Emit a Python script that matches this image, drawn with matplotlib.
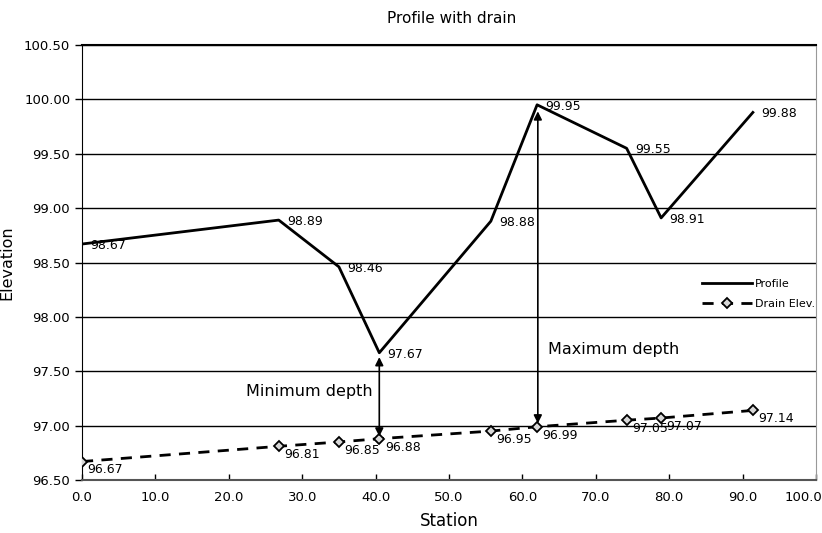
import matplotlib
matplotlib.use("Agg")
import matplotlib.pyplot as plt
import matplotlib.transforms as mtransforms

station = [0.0, 26.8, 35.0, 40.5, 55.7, 62.0, 74.2, 78.9, 91.4]
profile = [98.67, 98.89, 98.46, 97.67, 98.88, 99.95, 99.55, 98.91, 99.88]
drain = [96.67, 96.81, 96.85, 96.88, 96.95, 96.99, 97.05, 97.07, 97.14]

xticks = [0, 10, 20, 30, 40, 50, 60, 70, 80, 90, 100]
yticks = [96.5, 97.0, 97.5, 98.0, 98.5, 99.0, 99.5, 100.0, 100.5]

min_idx = 3
max_idx = 5

fig = plt.figure(figsize=(8.22, 5.33), dpi=100)
ax = fig.add_axes([0.0998, 0.0994, 0.8929, 0.8162])

for y in yticks[1:]:
    ax.axhline(y, color="black", lw=1.0, zorder=1)

ax.plot(station, profile, color="black", lw=2.0, label="Profile", zorder=3)
ax.plot(station, drain, color="black", lw=2.0, ls=(0, (4, 3)), marker="D",
        markersize=5.5, markerfacecolor="#d8d8d8", markeredgecolor="black",
        markeredgewidth=1.3, label="Drain Elev.", zorder=3)

for x, y in zip(station, profile):
    ax.annotate(f"{y:.2f}", (x, y), xytext=(6, -1), textcoords="offset points",
                ha="left", va="center", fontsize=9)
for x, y in zip(station, drain):
    ax.annotate(f"{y:.2f}", (x, y), xytext=(4, -6), textcoords="offset points",
                ha="left", va="center", fontsize=9)

arrow_kw = dict(arrowstyle="<|-|>", color="black", lw=1.2, mutation_scale=12,
                shrinkA=0, shrinkB=0)
ax.annotate("", xy=(station[min_idx], profile[min_idx] - 0.04),
            xytext=(station[min_idx], drain[min_idx] + 0.02), arrowprops=arrow_kw, zorder=4)
ax.annotate("", xy=(station[max_idx] + 0.1, profile[max_idx] - 0.06),
            xytext=(station[max_idx] + 0.1, drain[max_idx] + 0.03), arrowprops=arrow_kw, zorder=4)

ax.text(31.0, 97.31, "Minimum depth", ha="center", va="center", fontsize=11.5)
ax.text(63.5, 97.70, "Maximum depth", ha="left", va="center", fontsize=11.5)

ax.set_xlim(0, 100)
ax.set_ylim(96.5, 100.5)
ax.set_xticks(xticks)
ax.set_xticklabels([f"{v:.1f}" for v in xticks], fontsize=9.5)
ax.set_yticks(yticks)
ax.set_yticklabels([f"{v:.2f}" for v in yticks], fontsize=9.5)
ax.tick_params(axis="y", direction="out", length=5, width=1)
ax.tick_params(axis="x", direction="in", length=4, width=1, pad=8)

last = ax.get_xticklabels()[-1]
last.set_horizontalalignment("right")
last.set_transform(last.get_transform() + mtransforms.ScaledTranslation(6 / 100, 0, fig.dpi_scale_trans))

ax.spines["top"].set_color("black")
ax.spines["top"].set_linewidth(1.5)
ax.spines["right"].set_color("#999999")
ax.spines["left"].set_color("black")
ax.spines["bottom"].set_color("#555555")
ax.spines["bottom"].set_linewidth(1.5)

ax.set_xlabel("Station", fontsize=12, labelpad=6)
ax.set_ylabel("Elevation", fontsize=11.5, labelpad=7)
fig.text(0.55, 0.965, "Profile with drain", ha="center", va="center", fontsize=11)

leg = ax.legend(loc="center right", bbox_to_anchor=(1.012, 0.428), frameon=False,
                fontsize=8, handlelength=4.5, handletextpad=0.2, labelspacing=0.9)

fig.savefig("out.png", dpi=100)
